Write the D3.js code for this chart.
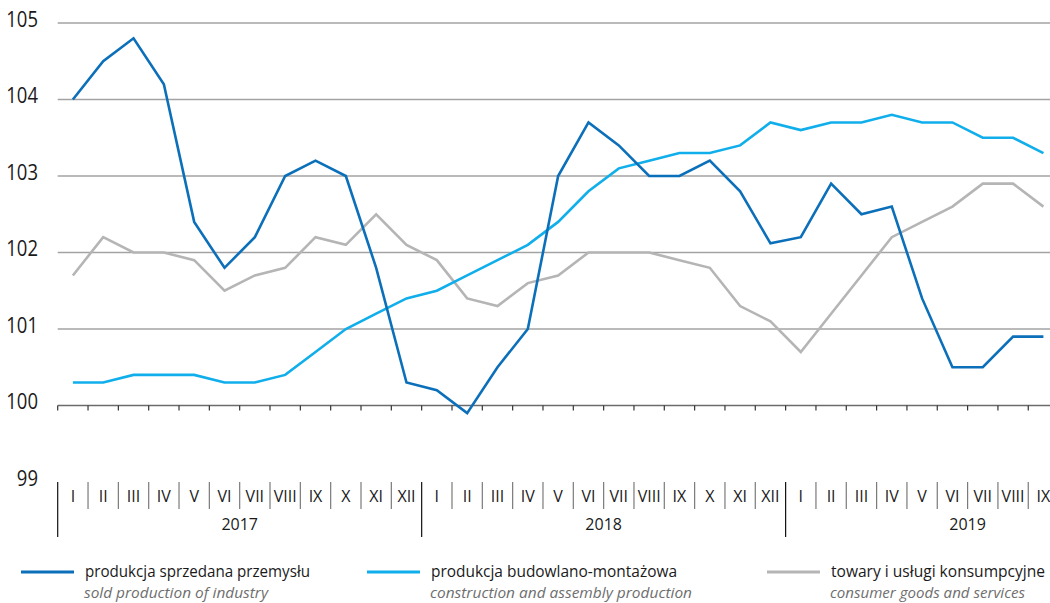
<!DOCTYPE html>
<html>
<head>
<meta charset="utf-8">
<script src="https://cdn.jsdelivr.net/npm/d3@7"></script>
<style>
  html, body { margin: 0; padding: 0; background: #fff; }
  svg { display: block; font-family: "Open Sans", "Noto Sans", sans-serif; }
</style>
</head>
<body>
<div id="chart"></div>
<script>
// miesiące i lata
const months = ['I','II','III','IV','V','VI','VII','VIII','IX','X','XI','XII'];
const years = ['2017', '2018', '2019'];
const monthsPerYear = [12, 12, 9];
const yTicks = [99, 100, 101, 102, 103, 104, 105];

// produkcja sprzedana przemysłu
const industry = [
  104.0, 104.5, 104.8, 104.2, 102.4, 101.8, 102.2, 103.0, 103.2, 103.0, 101.8, 100.3,
  100.2, 99.9, 100.5, 101.0, 103.0, 103.7, 103.4, 103.0, 103.0, 103.2, 102.8, 102.12,
  102.2, 102.9, 102.5, 102.6, 101.4, 100.5, 100.5, 100.9, 100.9
];
// produkcja budowlano-montażowa
const construction = [
  100.3, 100.3, 100.4, 100.4, 100.4, 100.3, 100.3, 100.4, 100.7, 101.0, 101.2, 101.4,
  101.5, 101.7, 101.9, 102.1, 102.4, 102.8, 103.1, 103.2, 103.3, 103.3, 103.4, 103.7,
  103.6, 103.7, 103.7, 103.8, 103.7, 103.7, 103.5, 103.5, 103.3
];
// towary i usługi konsumpcyjne
const consumer = [
  101.7, 102.2, 102.0, 102.0, 101.9, 101.5, 101.7, 101.8, 102.2, 102.1, 102.5, 102.1,
  101.9, 101.4, 101.3, 101.6, 101.7, 102.0, 102.0, 102.0, 101.9, 101.8, 101.3, 101.1,
  100.7, 101.2, 101.7, 102.2, 102.4, 102.6, 102.9, 102.9, 102.6
];

const seriesNames = ['produkcja sprzedana przemysłu', 'produkcja budowlano-montażowa', 'towary i usługi konsumpcyjne'];
const seriesNamesEn = ['sold production of industry', 'construction and assembly production', 'consumer goods and services'];

const W = 1050, H = 603;
const bandW = 30.33;
const x0 = 57.7;

const periods = [];
years.forEach((yr, yi) => {
  for (let m = 0; m < monthsPerYear[yi]; m++) periods.push({ year: yr, month: months[m] });
});

const x = d3.scaleBand().domain(d3.range(periods.length)).range([x0, x0 + bandW * periods.length]).padding(0);
const y = d3.scaleLinear().domain([99, 105]).range([482, 23]);

const svg = d3.select('#chart').append('svg').attr('width', W).attr('height', H);

// siatka
svg.append('g').selectAll('line')
  .data(yTicks.filter(v => v > 100)).join('line')
  .attr('x1', x0).attr('x2', W)
  .attr('y1', d => y(d)).attr('y2', d => y(d))
  .attr('stroke', '#a3a3a3').attr('stroke-width', 1.3);

// etykiety osi Y
svg.append('g').selectAll('text')
  .data(yTicks).join('text')
  .attr('x', 38).attr('y', d => y(d) - 2)
  .attr('text-anchor', 'end').attr('dominant-baseline', 'middle')
  .attr('font-size', '21px').attr('fill', '#1a1a1a')
  .attr('transform', 'translate(38,0) scale(0.88,1) translate(-38,0)')
  .text(d => d);

// linia 100 z kreskami
const y100 = y(100);
svg.append('line').attr('x1', x0).attr('x2', W).attr('y1', y100).attr('y2', y100)
  .attr('stroke', '#6b6b6b').attr('stroke-width', 1.5);
svg.append('g').selectAll('line')
  .data(d3.range(periods.length + 1)).join('line')
  .attr('x1', i => x0 + i * bandW).attr('x2', i => x0 + i * bandW)
  .attr('y1', y100).attr('y2', y100 + 5)
  .attr('stroke', '#333').attr('stroke-width', 1.2);

// oś kategorii
const y99 = y(99);
const yearStarts = [0, 12, 24];
svg.append('g').selectAll('line')
  .data(d3.range(1, periods.length + 1).filter(i => !yearStarts.includes(i))).join('line')
  .attr('x1', i => x0 + i * bandW).attr('x2', i => x0 + i * bandW)
  .attr('y1', y99).attr('y2', y99 + 27)
  .attr('stroke', '#7a7a7a').attr('stroke-width', 1.2);
svg.append('g').selectAll('line')
  .data(yearStarts).join('line')
  .attr('x1', i => x0 + i * bandW).attr('x2', i => x0 + i * bandW)
  .attr('y1', y99).attr('y2', y99 + 55)
  .attr('stroke', '#111').attr('stroke-width', 1.2);

svg.append('g').selectAll('text')
  .data(periods).join('text')
  .attr('x', (d, i) => x(i) + x.bandwidth() / 2).attr('y', y99 + 20)
  .attr('text-anchor', 'middle').attr('font-size', '16px').attr('fill', '#1a1a1a')
  .text(d => d.month);

svg.append('g').selectAll('text')
  .data(years).join('text')
  .attr('x', (d, i) => x0 + (yearStarts[i] + 6) * bandW).attr('y', y99 + 48)
  .attr('text-anchor', 'middle').attr('font-size', '16px').attr('fill', '#1a1a1a')
  .text(d => d);

// linie serii
const colors = ['#0b6fba', '#10aeea', '#b5b5b5'];
const allSeries = [industry, construction, consumer];
const line = d3.line().x((d, i) => x(i) + x.bandwidth() / 2).y(d => y(d));
[2, 1, 0].forEach(k => {
  svg.append('path').datum(allSeries[k])
    .attr('d', line).attr('fill', 'none')
    .attr('stroke', colors[k]).attr('stroke-width', 2.6)
    .attr('stroke-linejoin', 'miter');
});

// legenda
const legendX = [21, 367, 767];
const legendW = [225, 246, 214];
const legendWEn = [184, 262, 195];
const lg = svg.append('g');
seriesNames.forEach((name, i) => {
  lg.append('line').attr('x1', legendX[i]).attr('x2', legendX[i] + 53)
    .attr('y1', 572).attr('y2', 572)
    .attr('stroke', colors[i]).attr('stroke-width', 3);
  lg.append('text').attr('x', legendX[i] + 64).attr('y', 577)
    .attr('font-size', '16px').attr('fill', '#1a1a1a')
    .attr('textLength', legendW[i]).attr('lengthAdjust', 'spacingAndGlyphs')
    .text(name);
  lg.append('text').attr('x', legendX[i] + 63).attr('y', 598)
    .attr('font-size', '15px').attr('font-style', 'italic').attr('fill', '#6e6e6e')
    .attr('textLength', legendWEn[i]).attr('lengthAdjust', 'spacingAndGlyphs')
    .text(seriesNamesEn[i]);
});
</script>
</body>
</html>
